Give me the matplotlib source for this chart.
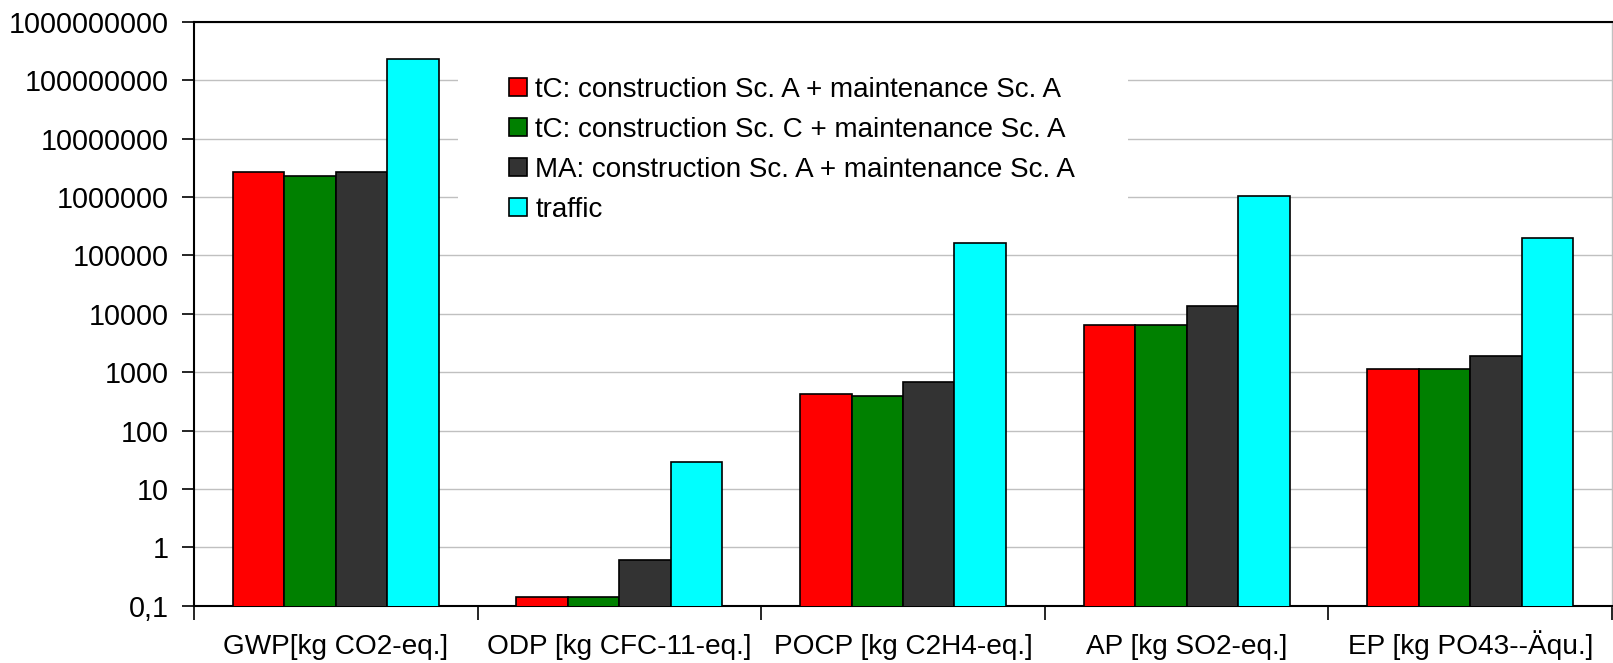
import numpy as np
import matplotlib
matplotlib.use("Agg")
import matplotlib.pyplot as plt
from matplotlib.ticker import FixedLocator, FuncFormatter
from matplotlib.patches import Rectangle

plt.rcParams['font.family'] = ['Liberation Sans', 'DejaVu Sans']

categories = ["GWP[kg CO2-eq.]", "ODP [kg CFC-11-eq.]", "POCP [kg C2H4-eq.]",
              "AP [kg SO2-eq.]", "EP [kg PO43--Äqu.]"]
series_names = ["tC: construction Sc. A + maintenance Sc. A",
                "tC: construction Sc. C + maintenance Sc. A",
                "MA: construction Sc. A + maintenance Sc. A",
                "traffic"]
tc_a = [2.7e6, 0.14, 424, 6520, 1135]
tc_c = [2.27e6, 0.14, 396, 6520, 1135]
ma_a = [2.7e6, 0.61, 672, 13800, 1900]
traffic = [2.32e8, 29.3, 1.64e5, 1.06e6, 1.97e5]
values = [tc_a, tc_c, ma_a, traffic]
colors = ["#FF0000", "#008000", "#333333", "#00FFFF"]

W, H = 1613, 663
fig = plt.figure(figsize=(W / 100, H / 100), dpi=100)
ax = fig.add_axes([194 / W, (H - 605.7) / H, (1612 - 194) / W, (605.7 - 22) / H])

x = np.arange(len(categories))
w = 0.1815
for i, (vals, c, name) in enumerate(zip(values, colors, series_names)):
    ax.bar(x + (i - 1.5) * w, vals, width=w, color=c, edgecolor="black",
           linewidth=1.2, label=name, zorder=3)

ax.set_yscale("log")
ax.set_ylim(0.1, 1e9)
ax.set_xlim(-0.5, len(categories) - 0.5)
yt = [10.0 ** k for k in range(-1, 10)]
ax.yaxis.set_major_locator(FixedLocator(yt))
ax.yaxis.set_minor_locator(FixedLocator([]))
ax.yaxis.set_major_formatter(FuncFormatter(lambda v, p: "0,1" if v < 1 else f"{int(round(v))}"))
ax.grid(axis="y", color="#C0C0C0", linewidth=1.0, zorder=0)

ax.set_xticks(np.arange(-0.5, len(categories) + 0.5, 1.0))
ax.set_xticklabels([])
ax.set_xticks(x, minor=True)
ax.set_xticklabels(categories, minor=True)
ax.tick_params(axis="x", which="major", direction="out", length=10, width=1.2, color="black")
ax.tick_params(axis="x", which="minor", length=0, pad=35, labelsize=20.2)
for lbl in ax.get_xticklabels(minor=True):
    lbl.set_verticalalignment("baseline")
ax.tick_params(axis="y", which="major", direction="out", length=9, width=1.2, labelsize=20.7, pad=9)

for s in ["left", "bottom", "top"]:
    ax.spines[s].set_color("black")
    ax.spines[s].set_linewidth(1.5)
ax.spines["right"].set_color("#C0C0C0")
ax.spines["right"].set_linewidth(1.0)

# white legend area covering gridlines
ax.add_patch(Rectangle((458 / W, 1 - 225 / H), (1128 - 458) / W, (225 - 60) / H,
                       transform=fig.transFigure, facecolor="white", edgecolor="none",
                       zorder=2))

leg = ax.legend(loc="upper left", bbox_to_anchor=(509 / W, 1 - 77 / H),
                bbox_transform=fig.transFigure, fontsize=20, frameon=False,
                handlelength=0.65, handleheight=0.62, handletextpad=0.3,
                labelspacing=0.5, borderpad=0, borderaxespad=0)
leg.set_zorder(5)

fig.savefig("out.png", dpi=100)
